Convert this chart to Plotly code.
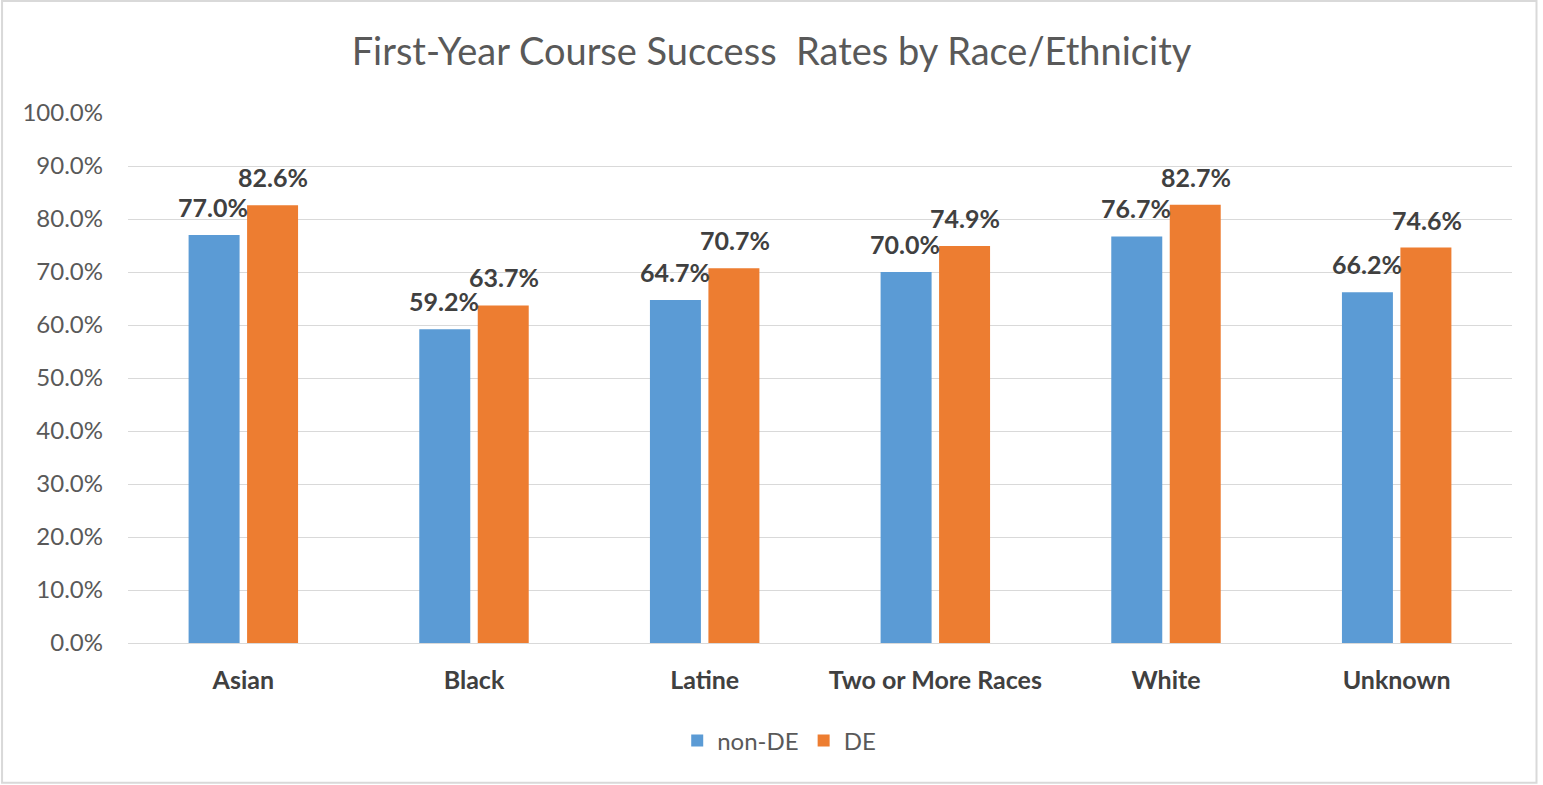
import plotly.graph_objects as go

# Course success rates (fraction) by race/ethnicity
categories = ["Asian", "Black", "Latine", "Two or More Races", "White", "Unknown"]
non_de = [0.770, 0.592, 0.647, 0.700, 0.767, 0.662]
de = [0.826, 0.637, 0.707, 0.749, 0.827, 0.746]
y_ticks = [i / 10 for i in range(11)]

BLUE = "#5B9BD5"
ORANGE = "#ED7D31"
FONT = "Lato"
TEXT_GREY = "#595959"
LABEL_DARK = "#404040"

fig = go.Figure()
fig.add_trace(go.Bar(name="non-DE", x=categories, y=non_de, marker_color=BLUE,
                     marker_line_width=0))
fig.add_trace(go.Bar(name="DE", x=categories, y=de, marker_color=ORANGE,
                     marker_line_width=0))

# Value labels above each bar; the pair is offset left/right of the category centre
slot_px = 30
for series, shift in ((non_de, -slot_px), (de, slot_px)):
    for cat, val in zip(categories, series):
        fig.add_annotation(
            x=cat, y=val, text=f"<b>{val * 100:.1f}%</b>", showarrow=False,
            xshift=shift, yshift=28, yanchor="middle",
            font=dict(family=FONT, size=25, color=LABEL_DARK),
        )

# Thin outer border around the chart area
fig.add_shape(type="rect", xref="paper", yref="paper",
              x0=-0.0910, x1=1.0177, y0=-0.2636, y1=1.2115,
              line=dict(color="#D9D9D9", width=2), fillcolor="rgba(0,0,0,0)")

fig.update_layout(
    width=1543, height=785,
    margin=dict(l=128, r=31, t=113, b=142),
    paper_bgcolor="white", plot_bgcolor="white",
    barmode="group", bargap=0.493, bargroupgap=0.128,
    title=dict(text="First-Year Course Success  Rates by Race/Ethnicity",
               x=0.5, xanchor="center", y=1 - 52 / 785, yanchor="middle",
               font=dict(family=FONT, size=38, color=TEXT_GREY)),
    font=dict(family=FONT, color=TEXT_GREY),
    legend=dict(orientation="h", x=0.505, xanchor="center", xref="container",
                y=1 - 741 / 785, yanchor="middle", yref="container",
                font=dict(family=FONT, size=24, color=TEXT_GREY),
                itemwidth=30, traceorder="normal"),
    showlegend=True,
)
fig.update_yaxes(range=[0, 1], tickvals=y_ticks, tickformat=".1%",
                 showgrid=True, gridcolor="#D9D9D9", gridwidth=1,
                 zeroline=False, showline=False, ticks="",
                 ticklabelstandoff=24,
                 tickfont=dict(family=FONT, size=24, color=TEXT_GREY))
fig.update_xaxes(showline=True, linecolor="#D9D9D9", linewidth=1, ticks="",
                 ticklabelstandoff=15,
                 tickfont=dict(family=FONT, size=25, color=LABEL_DARK),
                 tickvals=categories,
                 ticktext=[f"<b>{c}</b>" for c in categories])

fig.write_html("out.html")
